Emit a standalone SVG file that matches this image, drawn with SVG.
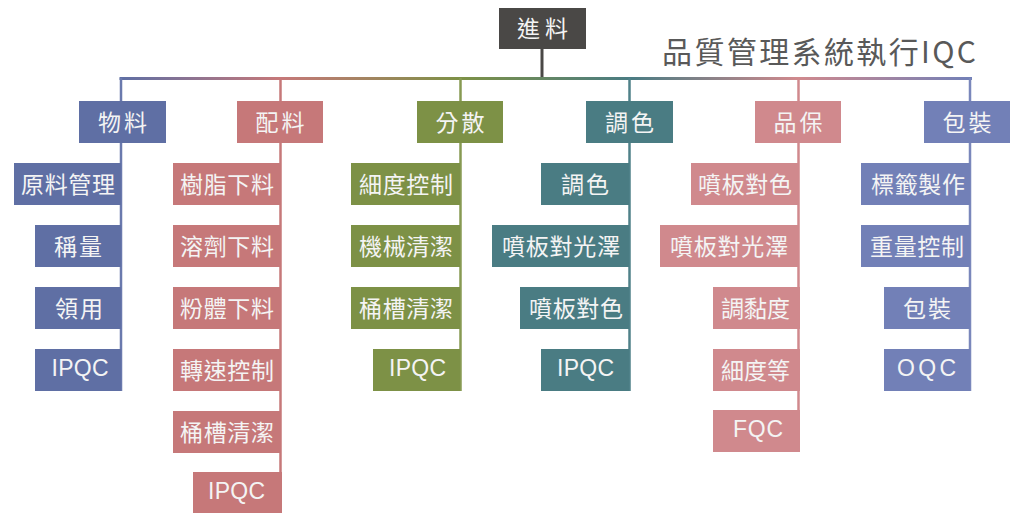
<svg xmlns="http://www.w3.org/2000/svg" width="1010" height="513" viewBox="0 0 1010 513">
<style>
text{font-family:"Liberation Sans","Noto Sans CJK TC",sans-serif;font-size:23px;fill:#f4f4f4;text-anchor:middle}
.t{font-family:"Noto Sans CJK TC",sans-serif;font-size:30px;fill:#595959;text-anchor:start}
.c1{fill:#5f6fa4}.c2{fill:#c67879}.c3{fill:#7d9146}.c4{fill:#4a7c83}.c5{fill:#d0898d}.c6{fill:#7280b7}.c0{fill:#4a4846}
.l{fill:none;stroke-width:2.5}
</style>
<defs>
<linearGradient id="bar" gradientUnits="userSpaceOnUse" x1="121" y1="0" x2="971" y2="0">
<stop offset="0" stop-color="#5f6fa4"/>
<stop offset="0.187" stop-color="#c67879"/>
<stop offset="0.4" stop-color="#7d9146"/>
<stop offset="0.6" stop-color="#4a7c83"/>
<stop offset="0.796" stop-color="#d0898d"/>
<stop offset="1" stop-color="#7280b7"/>
</linearGradient>
</defs>
<text class="t" x="662" y="63" textLength="314" lengthAdjust="spacing">品質管理系統執行IQC</text>
<g id="connectors">
<line x1="542" y1="49" x2="542" y2="79" stroke="#4a4846" stroke-width="3"/>
<line x1="119.5" y1="78.5" x2="972" y2="78.5" stroke="url(#bar)" stroke-width="3"/>
<line class="l" x1="121" y1="78" x2="121" y2="391" stroke="#6a79ad"/>
<line class="l" x1="280.5" y1="78" x2="280.5" y2="513" stroke="#c67879"/>
<line class="l" x1="460.5" y1="78" x2="460.5" y2="391" stroke="#879a52"/>
<line class="l" x1="629.5" y1="78" x2="629.5" y2="391" stroke="#4f8189"/>
<line class="l" x1="798.5" y1="78" x2="798.5" y2="452" stroke="#d0898d"/>
<line class="l" x1="970" y1="78" x2="970" y2="391" stroke="#7a87bb"/>
</g>
<g id="n-top"><rect class="c0" x="499" y="8" width="87" height="41"/><text x="542.5" y="37" textLength="51">進料</text></g>
<g id="n-wuliao"><rect class="c1" x="79" y="101" width="87" height="42"/><text x="122.5" y="130.5" textLength="49">物料</text></g>
<g id="n-peiliao"><rect class="c2" x="237" y="101" width="86" height="42"/><text x="280" y="130.5" textLength="49">配料</text></g>
<g id="n-fensan"><rect class="c3" x="417" y="101" width="86" height="42"/><text x="460" y="130.5" textLength="49">分散</text></g>
<g id="n-tiaose"><rect class="c4" x="586" y="101" width="87" height="42"/><text x="629.5" y="130.5" textLength="49">調色</text></g>
<g id="n-pinbao"><rect class="c5" x="755" y="101" width="86" height="42"/><text x="798" y="130.5" textLength="49">品保</text></g>
<g id="n-baozhuang"><rect class="c6" x="924" y="101" width="86" height="42"/><text x="967" y="130.5" textLength="49">包裝</text></g>

<g id="n1-1"><rect class="c1" x="14" y="163" width="107" height="42"/><text x="68" y="192.5" textLength="94">原料管理</text></g>
<g id="n1-2"><rect class="c1" x="35" y="225" width="86" height="42"/><text x="78" y="254.5" textLength="48">稱量</text></g>
<g id="n1-3"><rect class="c1" x="35" y="287" width="86" height="42"/><text x="79" y="316.5" textLength="48">領用</text></g>
<g id="n1-4"><rect class="c1" x="35" y="349" width="86" height="42"/><text x="80" y="375.5" textLength="57">IPQC</text></g>

<g id="n2-1"><rect class="c2" x="173" y="163" width="107" height="42"/><text x="227" y="192.5" textLength="94">樹脂下料</text></g>
<g id="n2-2"><rect class="c2" x="173" y="225" width="107" height="42"/><text x="227" y="254.5" textLength="94">溶劑下料</text></g>
<g id="n2-3"><rect class="c2" x="173" y="287" width="107" height="42"/><text x="227" y="316.5" textLength="94">粉體下料</text></g>
<g id="n2-4"><rect class="c2" x="173" y="349" width="107" height="42"/><text x="227" y="378.5" textLength="94">轉速控制</text></g>
<g id="n2-5"><rect class="c2" x="173" y="411" width="107" height="42"/><text x="227" y="440.5" textLength="94">桶槽清潔</text></g>
<g id="n2-6"><rect class="c2" x="193" y="472" width="89" height="41"/><text x="236.5" y="498.5" textLength="57">IPQC</text></g>

<g id="n3-1"><rect class="c3" x="351" y="163" width="109" height="42"/><text x="406" y="192.5" textLength="94">細度控制</text></g>
<g id="n3-2"><rect class="c3" x="351" y="225" width="109" height="42"/><text x="406" y="254.5" textLength="94">機械清潔</text></g>
<g id="n3-3"><rect class="c3" x="351" y="287" width="109" height="42"/><text x="406" y="316.5" textLength="94">桶槽清潔</text></g>
<g id="n3-4"><rect class="c3" x="373" y="349" width="87" height="42"/><text x="417.5" y="375.5" textLength="57">IPQC</text></g>

<g id="n4-1"><rect class="c4" x="541" y="163" width="88" height="42"/><text x="585" y="192.5" textLength="48">調色</text></g>
<g id="n4-2"><rect class="c4" x="492" y="225" width="137" height="42"/><text x="561" y="254.5" textLength="118">噴板對光澤</text></g>
<g id="n4-3"><rect class="c4" x="520" y="287" width="109" height="42"/><text x="576" y="316.5" textLength="94">噴板對色</text></g>
<g id="n4-4"><rect class="c4" x="541" y="349" width="88" height="42"/><text x="585.5" y="375.5" textLength="57">IPQC</text></g>

<g id="n5-1"><rect class="c5" x="691" y="163" width="107" height="42"/><text x="745" y="192.5" textLength="94">噴板對色</text></g>
<g id="n5-2"><rect class="c5" x="660" y="225" width="138" height="42"/><text x="729" y="254.5" textLength="118">噴板對光澤</text></g>
<g id="n5-3"><rect class="c5" x="713" y="287" width="87" height="42"/><text x="755.5" y="316.5" textLength="69">調黏度</text></g>
<g id="n5-4"><rect class="c5" x="713" y="349" width="87" height="42"/><text x="755.5" y="378.5" textLength="69">細度等</text></g>
<g id="n5-5"><rect class="c5" x="713" y="410" width="87" height="42"/><text x="758" y="436.5" textLength="50">FQC</text></g>

<g id="n6-1"><rect class="c6" x="861" y="163" width="109" height="42"/><text x="918" y="192.5" textLength="94">標籤製作</text></g>
<g id="n6-2"><rect class="c6" x="861" y="225" width="109" height="42"/><text x="917" y="254.5" textLength="94">重量控制</text></g>
<g id="n6-3"><rect class="c6" x="884" y="287" width="86" height="42"/><text x="927" y="316.5" textLength="48">包裝</text></g>
<g id="n6-4"><rect class="c6" x="884" y="349" width="86" height="42"/><text x="926.5" y="375.5" textLength="59">OQC</text></g>
</svg>
